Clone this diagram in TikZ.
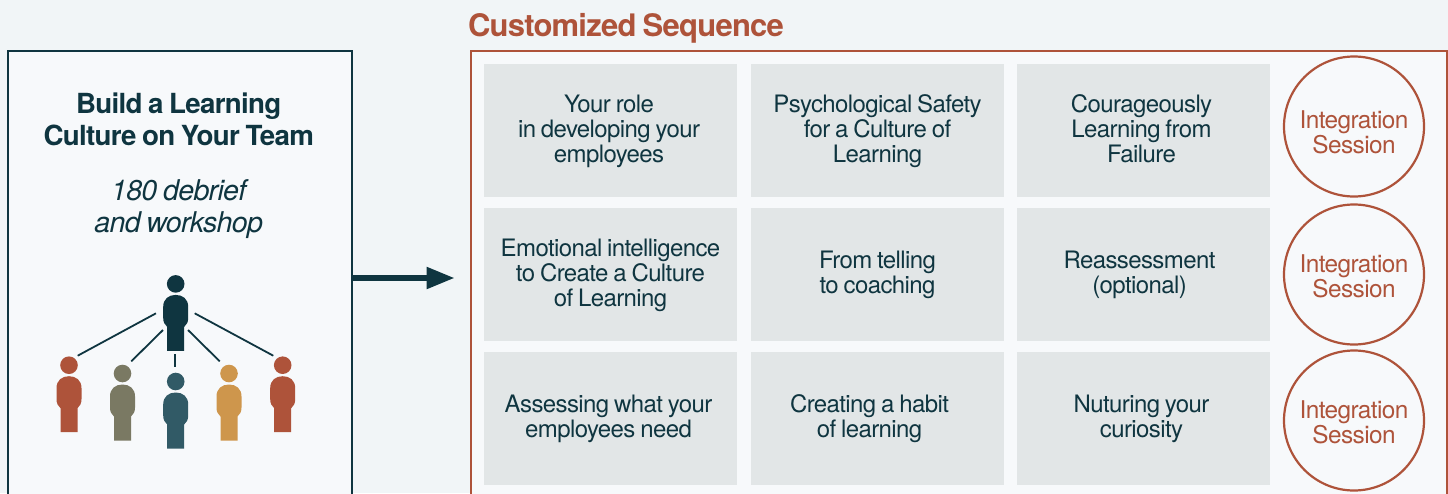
\documentclass[tikz,border=0pt]{standalone}
\usepackage{fontspec}
\setmainfont[LetterSpace=-2.5,WordSpace=0.8]{TeX Gyre Heros}
\usetikzlibrary{arrows.meta}
\definecolor{bgc}{HTML}{F1F5F7}
\definecolor{panelc}{HTML}{F7F9FB}
\definecolor{cellc}{HTML}{E2E6E7}
\definecolor{darkc}{HTML}{0F3540}
\definecolor{rustc}{HTML}{AE533A}
\definecolor{tealc}{HTML}{315A66}
\definecolor{olivec}{HTML}{7A7963}
\definecolor{orangec}{HTML}{CE964C}
\newcommand\celltxt[1]{\rule{0pt}{19.5pt}#1\rule[-6pt]{0pt}{6pt}}
\newcommand\sesstxt[1]{\rule{0pt}{#1}Integration\\Session\rule[-6pt]{0pt}{6pt}}
\newcommand\nudge[1]{\kern-#1pt\relax}
\tikzset{
  x=1pt,y=-1pt,
  panel/.style={draw,fill=panelc,line width=2pt,inner sep=0pt,outer sep=0pt,anchor=north west},
  cell/.style={fill=cellc,text=darkc,minimum width=253pt,minimum height=133pt,inner sep=0pt,outer sep=0pt,
    align=center,font=\fontsize{24}{25}\selectfont},
  session/.style={circle,draw=rustc,line width=2.2pt,fill=panelc,text=rustc,minimum size=140pt,inner sep=0pt,
    align=center,font=\fontsize{24.4}{25.5}\selectfont},
  link/.style={draw=darkc,line width=1.8pt},
  person/.pic={
    \fill (0,0) circle (8.8);
    \fill (-8.5,67) -- (-8.5,43) .. controls (-11,41) and (-12.5,38) .. (-12.5,34)
      -- (-12.5,23) .. controls (-12.5,15) and (-7,11) .. (0,11)
      .. controls (7,11) and (12.5,15) .. (12.5,23)
      -- (12.5,34) .. controls (12.5,38) and (11,41) .. (8.5,43) -- (8.5,67) -- cycle;
  },
}
\begin{document}
\begin{tikzpicture}
\useasboundingbox (0,0) rectangle (1448,493);
\clip (0,0) rectangle (1448,493);
\fill[bgc] (0,0) rectangle (1448,493);
\node[panel,draw=darkc,minimum width=344pt,minimum height=460pt] (left) at (8,51) {};
\node[panel,draw=rustc,minimum width=976pt,minimum height=460pt] (right) at (470.5,51) {};
\node[anchor=west,text=rustc,font=\fontsize{31}{33}\bfseries\selectfont] (head) at (464.5,28) {Customized Sequence};
\node[text=darkc,align=center,font=\fontsize{27.7}{32}\bfseries\selectfont] (title) at (178.7,119.5) {Build a Learning\\Culture on Your Team};
\node[text=darkc,align=center,font=\fontsize{28.6}{32}\itshape\selectfont] (sub) at (178.7,209.5) {180 debrief\\and workshop};
\node[cell] (a1) at (610.5,130.5) {\celltxt{\nudge{3}Your role\\\nudge{3}in developing your\\\nudge{3}employees}};
\node[cell] (a2) at (877.5,130.5) {\celltxt{Psychological Safety\\for a Culture of\\Learning}};
\node[cell] (a3) at (1143.5,130.5) {\celltxt{\nudge{4}Courageously\\\nudge{4}Learning from\\\nudge{4}Failure}};
\node[cell] (b1) at (610.5,274.5) {\celltxt{Emotional intelligence\\to Create a Culture\\of Learning}};
\node[cell] (b2) at (877.5,274.5) {\celltxt{From telling\\to coaching}};
\node[cell] (b3) at (1143.5,274.5) {\celltxt{\nudge{8}Reassessment\\\nudge{8}(optional)}};
\node[cell] (c1) at (610.5,418.5) {\celltxt{\nudge{4}Assessing what your\\\nudge{4}employees need}};
\node[cell] (c2) at (877.5,418.5) {\celltxt{\nudge{16}Creating a habit\\\nudge{16}of learning}};
\node[cell] (c3) at (1143.5,418.5) {\celltxt{\nudge{4}Nuturing your\\\nudge{4}curiosity}};
\node[session] (s1) at (1354,126.5) {\sesstxt{35pt}};
\node[session] (s2) at (1354,274.5) {\sesstxt{27pt}};
\node[session] (s3) at (1354,420.5) {\sesstxt{27pt}};
\coordinate (arrowstart) at (351,278);
\coordinate (arrowend) at (454.5,278);
\draw[draw=darkc,line width=5.4pt,-{Triangle[length=28pt,width=21pt]}] (arrowstart) -- (arrowend);
\pic[darkc] at (175.7,283.9) {person};
\pic[rustc] at (69,365.2) {person};
\pic[olivec] at (122.5,373.5) {person};
\pic[tealc] at (175.7,381.5) {person};
\pic[orangec] at (229,373.5) {person};
\pic[rustc] at (282.7,365.2) {person};
\coordinate (l1a) at (156,313.3); \coordinate (l1b) at (77.7,355.7);
\coordinate (l2a) at (163,330);   \coordinate (l2b) at (131.3,361.3);
\coordinate (l3a) at (174.7,354); \coordinate (l3b) at (174.7,367.3);
\coordinate (l4a) at (188,330);   \coordinate (l4b) at (219.7,361.3);
\coordinate (l5a) at (194.7,313.3); \coordinate (l5b) at (273.3,355.7);
\draw[link] (l1a) -- (l1b);
\draw[link] (l2a) -- (l2b);
\draw[link] (l3a) -- (l3b);
\draw[link] (l4a) -- (l4b);
\draw[link] (l5a) -- (l5b);
\end{tikzpicture}
\end{document}
